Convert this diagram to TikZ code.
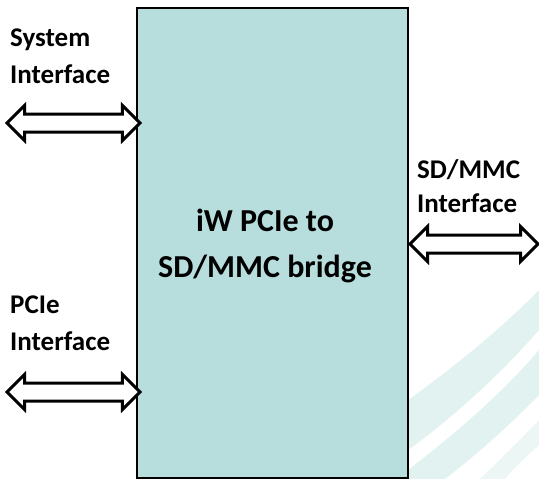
\documentclass[tikz,border=0pt]{standalone}
\usepackage{fontspec}
\setmainfont{Carlito}
\usepackage{xcolor}
\usetikzlibrary{shapes,shapes.arrows,positioning,calc}
\definecolor{bridgefill}{HTML}{B7DEDD}
\definecolor{swoosh}{HTML}{E2F2F1}

\begin{document}
\begin{tikzpicture}[x=1pt, y=-1pt,
    lbl/.style={align=left, font=\bfseries\fontsize{27}{37}\selectfont, inner sep=0pt},
    iface/.style={double arrow, draw=black, line width=3pt, fill=white, inner xsep=0pt, inner ysep=7.5pt,
        double arrow head extend=8.5pt, double arrow head indent=0pt}]
    \useasboundingbox (0,0) rectangle (539,479);
    % background swooshes
    \fill[swoosh] (408,400) .. controls (450,370) and (500,330) .. (539,290) -- (539,330) .. controls (500,375) and (450,420) .. (408,450) -- cycle;
    \fill[swoosh] (408,470) .. controls (460,430) and (505,390) .. (539,350) -- (539,395) .. controls (505,430) and (470,460) .. (445,479) -- (408,479) -- cycle;
    \fill[swoosh!70] (480,479) .. controls (500,460) and (520,440) .. (539,420) -- (539,445) .. controls (525,458) and (512,470) .. (505,479) -- cycle;

    \node[draw=black, line width=2.5pt, fill=bridgefill, minimum width=271pt, minimum height=470pt] (bridge) at (272.5,243) {};
    \node[align=center, font=\bfseries\fontsize{32}{46}\selectfont, inner sep=0pt] (title) at (265,246) {iW PCIe to\\SD/MMC bridge};

    \node[iface, minimum height=133pt] (sysarrow) at (73.5,123) {};
    \node[iface, minimum height=133pt] (pciearrow) at (73.5,392) {};
    \node[iface, minimum height=128pt] (sdarrow) at (474,244) {};

    \node[lbl, anchor=north west] (syslbl) at (10,29) {System\\Interface};
    \node[lbl, anchor=north west] (pcielbl) at (10,296) {PCIe\\Interface};
    \node[lbl, anchor=north west, font=\bfseries\fontsize{27}{34}\selectfont] (sdlbl) at (417,159) {SD/MMC\\Interface};
\end{tikzpicture}
\end{document}
